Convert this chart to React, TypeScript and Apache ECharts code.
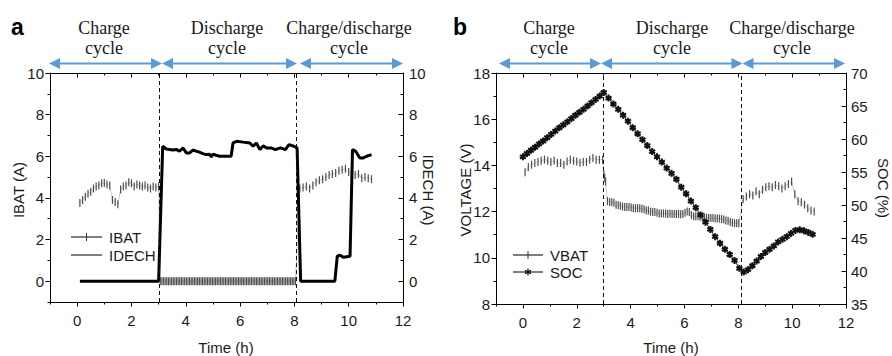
import { useEffect, useRef } from 'react';
import * as echarts from 'echarts';

const SANS = '"Liberation Sans", Arial, sans-serif';
const SERIF = '"Liberation Serif", "Times New Roman", serif';
const BLUE = '#5b9bd5';

// ---------- tick labels ----------
const timeTicks = ['-1', '0', '1', '2', '3', '4', '5', '6', '7', '8', '9', '10', '11', '12'];
const currentTicks = ['-1', '0', '1', '2', '3', '4', '5', '6', '7', '8', '9', '10'];

// ---------- panel a : IBAT (sampled segments) ----------
const ibatChargeStart = 0.1;
const ibatChargeStep = 0.1;
const ibatCharge = [3.75, 3.9, 4.05, 4.2, 4.3, 4.45, 4.55, 4.6, 4.7, 4.72, 4.65, 4.6, 3.9, 3.8, 3.7, 4.4, 4.55, 4.6, 4.75, 4.7, 4.55, 4.65, 4.6, 4.55, 4.6, 4.5, 4.45, 4.55, 4.5, 4.55];
const ibatDischargeStart = 3.06;
const ibatDischargeStep = 0.06;
const ibatDischarge = [
  0, 0, 0, 0, 0, 0, 0, 0, 0, 0, 0, 0,
  0, 0, 0, 0, 0, 0, 0, 0, 0, 0, 0, 0,
  0, 0, 0, 0, 0, 0, 0, 0, 0, 0, 0, 0,
  0, 0, 0, 0, 0, 0, 0, 0, 0, 0, 0, 0,
  0, 0, 0, 0, 0, 0, 0, 0, 0, 0, 0, 0,
  0, 0, 0, 0, 0, 0, 0, 0, 0, 0, 0, 0,
  0, 0, 0, 0, 0, 0, 0, 0, 0, 0, 0, 0,
];
const ibatMixedStart = 8.2;
const ibatMixedStep = 0.12;
const ibatMixed = [4.45, 4.5, 4.55, 4.45, 4.6, 4.75, 4.85, 4.9, 5.0, 5.1, 5.15, 5.2, 5.3, 5.35, 5.4, 5.25, 5.2, 5.1, 5.15, 4.95, 5.0, 4.95, 4.9];

// ---------- panel a : IDECH [time, current] ----------
const idech: [number, number][] = [
  [0.1, 0], [3.0, 0], [3.15, 6.48], [3.28, 6.35], [3.4, 6.33], [3.52, 6.3], [3.65, 6.33], [3.77, 6.24],
  [3.9, 6.4], [4.02, 6.16], [4.14, 6.16], [4.26, 6.3], [4.38, 6.25], [4.5, 6.2], [4.63, 6.13], [4.75, 6.08],
  [4.88, 6.1], [4.94, 5.97], [5.0, 6.1], [5.12, 6.05], [5.25, 6.0], [5.5, 6.0], [5.67, 6.0], [5.74, 6.64],
  [5.87, 6.72], [6.11, 6.68], [6.36, 6.64], [6.48, 6.48], [6.6, 6.64], [6.73, 6.32], [6.85, 6.5], [6.98, 6.4],
  [7.15, 6.4], [7.3, 6.32], [7.49, 6.4], [7.67, 6.32], [7.8, 6.56], [7.98, 6.48], [8.1, 6.4], [8.23, 0],
  [9.49, 0], [9.58, 1.2], [9.68, 1.25], [9.8, 1.15], [10.05, 1.2], [10.14, 6.32], [10.25, 6.25], [10.41, 5.92],
  [10.54, 5.92], [10.66, 6.0], [10.84, 6.08],
];

// ---------- panel b : VBAT ----------
const vbatChargeStart = 0.08;
const vbatChargeStep = 0.12;
const vbatCharge = [13.7, 13.93, 14.03, 14.1, 14.15, 14.2, 14.25, 14.2, 14.15, 14.2, 14.1, 14.1, 14.03, 14.17, 14.25, 14.2, 14.17, 14.12, 14.15, 14.15, 14.25, 14.32, 14.25, 14.25, 14.25];
const vbatDrop: [number, number][] = [[3.01, 13.6], [3.04, 13.45], [3.07, 13.3]];
const vbatDischargeStart = 3.14;
const vbatDischargeStep = 0.08;
const vbatDischarge = [
  12.45, 12.42, 12.4, 12.38, 12.3, 12.28, 12.25, 12.22, 12.2, 12.2, 12.2, 12.18, 12.15, 12.15, 12.15, 12.15,
  12.12, 12.1, 12.05, 12.05, 12.0, 11.98, 11.98, 11.95, 11.92, 11.92, 11.92, 11.92, 11.9, 11.92, 11.9, 11.9,
  11.9, 11.9, 11.88, 11.9, 11.95, 12.0, 11.98, 11.85, 11.8, 11.8, 11.8, 11.78, 11.78, 11.76, 11.74, 11.72,
  11.72, 11.72, 11.7, 11.7, 11.7, 11.68, 11.66, 11.62, 11.6, 11.55, 11.52, 11.5, 11.5, 11.5,
];
const vbatMixedStart = 8.18;
const vbatMixedStep = 0.12;
const vbatMixed = [12.55, 12.65, 12.75, 12.7, 12.88, 12.75, 12.95, 13.05, 13.1, 13.05, 13.15, 13.1, 13.0, 13.1, 13.2, 13.3, 12.75, 12.45, 12.4, 12.3, 12.15, 12.05, 12.0];

// ---------- panel b : SOC ----------
const socChargeStart = 0;
const socChargeStep = 0.15;
const socCharge = [57.3, 57.8, 58.3, 58.75, 59.25, 59.7, 60.2, 60.7, 61.2, 61.7, 62.15, 62.6, 63.1, 63.6, 64.05, 64.5, 65.0, 65.5, 66.0, 66.5, 67.05];
const socDischargeStart = 3.18;
const socDischargeStep = 0.18;
const socDischarge = [66.2, 65.3, 64.5, 63.6, 62.7, 61.7, 60.8, 59.9, 59.0, 58.1, 57.3, 56.5, 55.6, 54.8, 53.9, 52.7, 51.7, 50.6, 49.6, 48.5, 47.4, 46.3, 45.2, 44.2, 43.3, 42.5, 41.6, 40.4];
const socMixedStart = 8.2;
const socMixedStep = 0.16;
const socMixed = [39.85, 40.2, 40.8, 41.5, 42.2, 42.8, 43.3, 43.8, 44.4, 44.8, 45.2, 45.7, 46.15, 46.25, 46.1, 45.85, 45.55];

// phase boundaries (h)
const phaseBoundsA = [3.01, 8.06];
const phaseBoundsB = [2.99, 8.12];

// ---------- helpers ----------
function sampled(t0: number, step: number, values: number[]): [number, number][] {
  return values.map((v, i) => [Math.round((t0 + i * step) * 1000) / 1000, v]);
}

const ASTERISK =
  'path://M1.5,-5L-1.5,-5L-1.5,5L1.5,5Z M3.58,3.8L5.08,1.2L-3.58,-3.8L-5.08,-1.2Z M5.08,-1.2L3.58,-3.8L-5.08,1.2L-3.58,3.8Z';

const even = (_i: number, v: string) => Number(v) % 2 === 0;
const labelStyle = { fontSize: 15, fontFamily: SANS, color: '#1a1a1a' };
const lineBlack = { color: '#000', width: 1 };

function valueX(gridIndex: number, position: string, inside: boolean) {
  return {
    type: 'value', gridIndex, position, min: -1, max: 12, interval: 1,
    axisLine: { show: true, onZero: false, lineStyle: lineBlack },
    axisTick: { show: true, inside, length: 2.5, lineStyle: lineBlack },
    axisLabel: { show: false }, splitLine: { show: false },
  };
}
function catX(gridIndex: number, position: string, inside: boolean, labels: boolean) {
  return {
    type: 'category', gridIndex, position, data: timeTicks, boundaryGap: false,
    axisLine: { show: false, onZero: false },
    axisTick: { show: true, inside, length: 4.5, interval: even, lineStyle: lineBlack },
    axisLabel: { show: labels, interval: even, margin: 11, ...labelStyle },
    splitLine: { show: false },
  };
}
function valueYa(position: string, inside: boolean) {
  return {
    type: 'value', gridIndex: 0, position, min: -1, max: 10, interval: 1,
    axisLine: { show: true, onZero: false, lineStyle: lineBlack },
    axisTick: { show: true, inside, length: 2.5, lineStyle: lineBlack },
    axisLabel: { show: false }, splitLine: { show: false },
  };
}
function catYa(position: string, inside: boolean) {
  return {
    type: 'category', gridIndex: 0, position, data: currentTicks, boundaryGap: false,
    axisLine: { show: false, onZero: false },
    axisTick: { show: true, inside, length: 4.5, interval: even, lineStyle: lineBlack },
    axisLabel: { show: true, interval: even, margin: 6, ...labelStyle },
    splitLine: { show: false },
  };
}

function arrow(x1: number, x2: number, y: number) {
  const L = 11;
  const H = 5.5;
  return [
    { type: 'line', silent: true, shape: { x1: x1 + L - 1, y1: y, x2: x2 - L + 1, y2: y }, style: { stroke: BLUE, lineWidth: 2 } },
    { type: 'polygon', silent: true, shape: { points: [[x1, y], [x1 + L, y - H], [x1 + L, y + H]] }, style: { fill: BLUE } },
    { type: 'polygon', silent: true, shape: { points: [[x2, y], [x2 - L, y - H], [x2 - L, y + H]] }, style: { fill: BLUE } },
  ];
}

function txt(text: string, x: number, y: number, opts: any = {}) {
  const align = opts.align || 'center';
  const vAlign = opts.vAlign || 'middle';
  return {
    type: 'text', silent: true, x, y, rotation: opts.rotation || 0,
    style: {
      text,
      fill: opts.fill || '#1a1a1a',
      fontSize: opts.fontSize || 15,
      fontFamily: opts.fontFamily || SANS,
      fontWeight: opts.fontWeight || 'normal',
      lineHeight: opts.lineHeight,
      align, verticalAlign: vAlign,
      textAlign: align, textVerticalAlign: vAlign,
    },
  };
}

function legendLine(x1: number, x2: number, y: number) {
  return { type: 'line', silent: true, shape: { x1, y1: y, x2, y2: y }, style: { stroke: '#000', lineWidth: 1 } };
}

function buildOption() {
  const ibatData = [
    ...sampled(ibatChargeStart, ibatChargeStep, ibatCharge),
    ...sampled(ibatDischargeStart, ibatDischargeStep, ibatDischarge),
    ...sampled(ibatMixedStart, ibatMixedStep, ibatMixed),
  ];
  const vbatData = [
    ...sampled(vbatChargeStart, vbatChargeStep, vbatCharge),
    ...vbatDrop,
    ...sampled(vbatDischargeStart, vbatDischargeStep, vbatDischarge),
    ...sampled(vbatMixedStart, vbatMixedStep, vbatMixed),
  ];
  const socData = [
    ...sampled(socChargeStart, socChargeStep, socCharge),
    ...sampled(socDischargeStart, socDischargeStep, socDischarge),
    ...sampled(socMixedStart, socMixedStep, socMixed),
  ];

  const dashed = (bounds: number[]) => ({
    silent: true, symbol: ['none', 'none'], label: { show: false },
    lineStyle: { color: '#111', type: [4, 3], width: 1 },
    emphasis: { disabled: true },
    data: bounds.map((b) => ({ xAxis: b })),
  });

  const serif = { fontFamily: SERIF, fontSize: 18, lineHeight: 20 };
  const graphic: any[] = [
    ...arrow(49, 162, 63.5), ...arrow(162, 297, 63.5), ...arrow(300, 403, 63.5),
    ...arrow(499, 601, 63.5), ...arrow(601, 742.5, 63.5), ...arrow(742.5, 845, 63.5),
    txt('Charge\ncycle', 104, 38, serif),
    txt('Discharge\ncycle', 227, 38, serif),
    txt('Charge/discharge\ncycle', 349, 38, serif),
    txt('Charge\ncycle', 549, 38, serif),
    txt('Discharge\ncycle', 672, 38, serif),
    txt('Charge/discharge\ncycle', 792, 38, serif),
    txt('a', 11, 27, { align: 'left', fontSize: 23, fontWeight: 'bold', fill: '#000' }),
    txt('b', 453, 27, { align: 'left', fontSize: 23, fontWeight: 'bold', fill: '#000' }),
    txt('IBAT (A)', 18, 190, { rotation: Math.PI / 2 }),
    txt('IDECH (A)', 428, 190, { rotation: -Math.PI / 2 }),
    txt('Time (h)', 226, 347),
    txt('VOLTAGE (V)', 465, 190, { rotation: Math.PI / 2 }),
    txt('SOC (%)', 883, 188, { rotation: -Math.PI / 2 }),
    txt('Time (h)', 671, 347),
    // legend panel a
    legendLine(71, 102, 237),
    { type: 'rect', silent: true, shape: { x: 86, y: 233, width: 1, height: 8 }, style: { fill: '#333' } },
    txt('IBAT', 109, 237, { align: 'left' }),
    legendLine(71, 102, 255),
    txt('IDECH', 109, 255, { align: 'left' }),
    // legend panel b
    legendLine(513, 543, 255),
    { type: 'rect', silent: true, shape: { x: 527.5, y: 251, width: 1, height: 8 }, style: { fill: '#333' } },
    txt('VBAT', 550, 255, { align: 'left' }),
    legendLine(513, 543, 272),
    { type: 'line', silent: true, shape: { x1: 528, y1: 268.5, x2: 528, y2: 275.5 }, style: { stroke: '#000', lineWidth: 1.2 } },
    { type: 'line', silent: true, shape: { x1: 525, y1: 270.2, x2: 531, y2: 273.8 }, style: { stroke: '#000', lineWidth: 1.2 } },
    { type: 'line', silent: true, shape: { x1: 525, y1: 273.8, x2: 531, y2: 270.2 }, style: { stroke: '#000', lineWidth: 1.2 } },
    txt('SOC', 550, 272, { align: 'left' }),
  ];

  return {
    animation: false,
    backgroundColor: '#fff',
    grid: [
      { left: 50, top: 73, width: 353, height: 229 },
      { left: 496, top: 73, width: 350, height: 231 },
    ],
    xAxis: [
      valueX(0, 'bottom', false), catX(0, 'bottom', false, true),
      valueX(0, 'top', true), catX(0, 'top', true, false),
      valueX(1, 'bottom', false), catX(1, 'bottom', false, true),
      valueX(1, 'top', true), catX(1, 'top', true, false),
    ],
    yAxis: [
      valueYa('left', false), catYa('left', false),
      valueYa('right', true), catYa('right', true),
      {
        type: 'value', gridIndex: 1, position: 'left', min: 8, max: 18, interval: 2,
        axisLine: { show: true, onZero: false, lineStyle: lineBlack },
        axisTick: { show: true, length: 4.5, lineStyle: lineBlack },
        minorTick: { show: true, splitNumber: 2, length: 2.5, lineStyle: lineBlack },
        axisLabel: { margin: 6, ...labelStyle }, splitLine: { show: false }, minorSplitLine: { show: false },
      },
      {
        type: 'value', gridIndex: 1, position: 'right', min: 35, max: 70, interval: 5,
        axisLine: { show: true, onZero: false, lineStyle: lineBlack },
        axisTick: { show: true, inside: true, length: 4.5, lineStyle: lineBlack },
        minorTick: { show: true, splitNumber: 2, length: 2.5, lineStyle: lineBlack },
        axisLabel: { margin: 5, ...labelStyle }, splitLine: { show: false }, minorSplitLine: { show: false },
      },
    ],
    series: [
      {
        type: 'line', name: 'IBAT', xAxisIndex: 0, yAxisIndex: 0, data: ibatData,
        symbol: 'rect', symbolSize: [1.2, 8], showAllSymbol: true, silent: true,
        itemStyle: { color: '#4d4d4d' }, lineStyle: { color: '#aaaaaa', width: 0.6 }, z: 2,
        markLine: dashed(phaseBoundsA),
      },
      {
        type: 'line', name: 'IDECH', xAxisIndex: 0, yAxisIndex: 2, data: idech,
        symbol: 'none', silent: true, lineStyle: { color: '#000', width: 3 }, z: 3,
      },
      {
        type: 'line', name: 'VBAT', xAxisIndex: 4, yAxisIndex: 4, data: vbatData,
        symbol: 'rect', symbolSize: [1.2, 8], showAllSymbol: true, silent: true,
        itemStyle: { color: '#4d4d4d' }, lineStyle: { color: '#aaaaaa', width: 0.6 }, z: 2,
        markLine: dashed(phaseBoundsB),
      },
      {
        type: 'line', name: 'SOC', xAxisIndex: 4, yAxisIndex: 5, data: socData,
        symbol: ASTERISK, symbolSize: 7, showAllSymbol: true, silent: true,
        itemStyle: { color: '#111' }, lineStyle: { color: '#222', width: 1 }, z: 3,
      },
    ],
    graphic,
  };
}

export default function App() {
  const ref = useRef<HTMLDivElement>(null);
  useEffect(() => {
    if (!ref.current) return;
    const chart = echarts.init(ref.current, null, { renderer: 'svg' });
    chart.setOption(buildOption() as any);
    return () => chart.dispose();
  }, []);
  return (
    <div
      ref={ref}
      style={{ position: 'fixed', left: 0, top: 0, width: 892, height: 356, background: '#fff' }}
    />
  );
}
